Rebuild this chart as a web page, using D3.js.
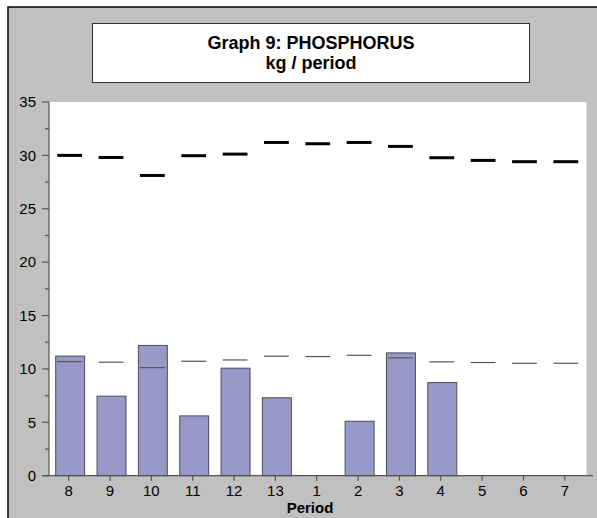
<!DOCTYPE html>
<html>
<head>
<meta charset="utf-8">
<script src="https://cdn.jsdelivr.net/npm/d3@7"></script>
<style>
  html, body { margin: 0; padding: 0; background: #fff; }
  svg { display: block; font-family: "Liberation Sans", Arial, sans-serif; }
</style>
</head>
<body>
<svg id="chart" width="597" height="518"></svg>
<script>
const categories = ["8","9","10","11","12","13","1","2","3","4","5","6","7"];
const barValues = [11.2, 7.45, 12.2, 5.6, 10.07, 7.3, null, 5.1, 11.5, 8.72, null, null, null];
const lowerMarks = [10.69, 10.63, 10.12, 10.72, 10.84, 11.19, 11.16, 11.28, 11.03, 10.66, 10.6, 10.53, 10.53];
const upperMarks = [30.0, 29.8, 28.12, 29.97, 30.12, 31.21, 31.09, 31.21, 30.84, 29.78, 29.53, 29.41, 29.41];
const yTicks = [0, 5, 10, 15, 20, 25, 30, 35];
const yMinorTicks = [2.5, 7.5, 12.5, 17.5, 22.5, 27.5, 32.5];
const titleLines = ["Graph 9: PHOSPHORUS", "kg / period"];
const xAxisTitle = "Period";

(function () {
const svg = d3.select("#chart");

// outer frame
svg.append("rect").attr("x", 8).attr("y", 7).attr("width", 620).attr("height", 540)
  .attr("fill", "#c0c0c0").attr("stroke", "#000").attr("stroke-width", 1.5);

// title box
svg.append("rect").attr("x", 92.5).attr("y", 23.5).attr("width", 437).attr("height", 59)
  .attr("fill", "#fff").attr("stroke", "#333").attr("stroke-width", 1);
svg.selectAll("text.title").data(titleLines).join("text")
  .attr("class", "title")
  .attr("x", 311).attr("y", (d, i) => 48.5 + i * 20)
  .attr("text-anchor", "middle").attr("font-size", 18).attr("font-weight", "bold")
  .attr("fill", "#000").text(d => d);

const pLeft = 49, pRight = 586.5, pTop = 102, pBottom = 475.7;

// plot area
svg.append("rect").attr("x", pLeft).attr("y", pTop).attr("width", pRight - pLeft).attr("height", pBottom - pTop)
  .attr("fill", "#fff");

const x = d3.scaleBand().domain(categories).range([pLeft, pRight]).padding(0);
const y = d3.scaleLinear().domain([0, 35]).range([pBottom, pTop]);
const bw = x.bandwidth();

const data = categories.map((c, i) => ({ c, bar: barValues[i], lo: lowerMarks[i], hi: upperMarks[i] }));

// bars
svg.append("g").selectAll("rect").data(data.filter(d => d.bar != null)).join("rect")
  .attr("x", d => x(d.c) + bw * 0.15 + 0.5)
  .attr("y", d => y(d.bar))
  .attr("width", bw * 0.7)
  .attr("height", d => y(0) - y(d.bar))
  .attr("fill", "#9898c9").attr("stroke", "#4a4a5a").attr("stroke-width", 1);

// lower thin marks
svg.append("g").selectAll("line").data(data).join("line")
  .attr("x1", d => x(d.c) + bw * 0.2).attr("x2", d => x(d.c) + bw * 0.8)
  .attr("y1", d => y(d.lo)).attr("y2", d => y(d.lo))
  .attr("stroke", "#555").attr("stroke-width", 1.2);

// upper thick marks
svg.append("g").selectAll("line").data(data).join("line")
  .attr("x1", d => x(d.c) + bw * 0.2).attr("x2", d => x(d.c) + bw * 0.8)
  .attr("y1", d => y(d.hi)).attr("y2", d => y(d.hi))
  .attr("stroke", "#000").attr("stroke-width", 3);

// y axis
const yAxis = svg.append("g").attr("transform", `translate(${pLeft},0)`);
yAxis.append("line").attr("x1", 0).attr("x2", 0).attr("y1", pTop).attr("y2", pBottom)
  .attr("stroke", "#555").attr("stroke-width", 1.2);
yAxis.selectAll("line.major").data(yTicks).join("line").attr("class", "major")
  .attr("x1", -7).attr("x2", 0).attr("y1", d => y(d)).attr("y2", d => y(d))
  .attr("stroke", "#555").attr("stroke-width", 1.2);
yAxis.selectAll("line.minor").data(yMinorTicks).join("line").attr("class", "minor")
  .attr("x1", -4).attr("x2", 0).attr("y1", d => y(d)).attr("y2", d => y(d))
  .attr("stroke", "#555").attr("stroke-width", 1.2);
yAxis.selectAll("text").data(yTicks).join("text")
  .attr("x", -13).attr("y", d => y(d)).attr("dy", "0.35em")
  .attr("text-anchor", "end").attr("font-size", 15).attr("fill", "#000").text(d => d);

// x axis
const xAxis = svg.append("g").attr("transform", `translate(0,${pBottom})`);
xAxis.append("line").attr("x1", 42).attr("x2", 593).attr("y1", 0).attr("y2", 0)
  .attr("stroke", "#555").attr("stroke-width", 1.2);
xAxis.selectAll("line.tick").data(categories).join("line").attr("class", "tick")
  .attr("x1", d => x(d) + bw / 2 - 1).attr("x2", d => x(d) + bw / 2 - 1)
  .attr("y1", 0).attr("y2", 5).attr("stroke", "#555").attr("stroke-width", 1.2);
xAxis.selectAll("text").data(categories).join("text")
  .attr("x", d => x(d) + bw / 2 - 1).attr("y", 20.5)
  .attr("text-anchor", "middle").attr("font-size", 15).attr("fill", "#000").text(d => d);

svg.append("text").attr("x", 310).attr("y", 513).attr("text-anchor", "middle")
  .attr("font-size", 15).attr("font-weight", "bold").attr("fill", "#000").text(xAxisTitle);
})();
</script>
</body>
</html>
